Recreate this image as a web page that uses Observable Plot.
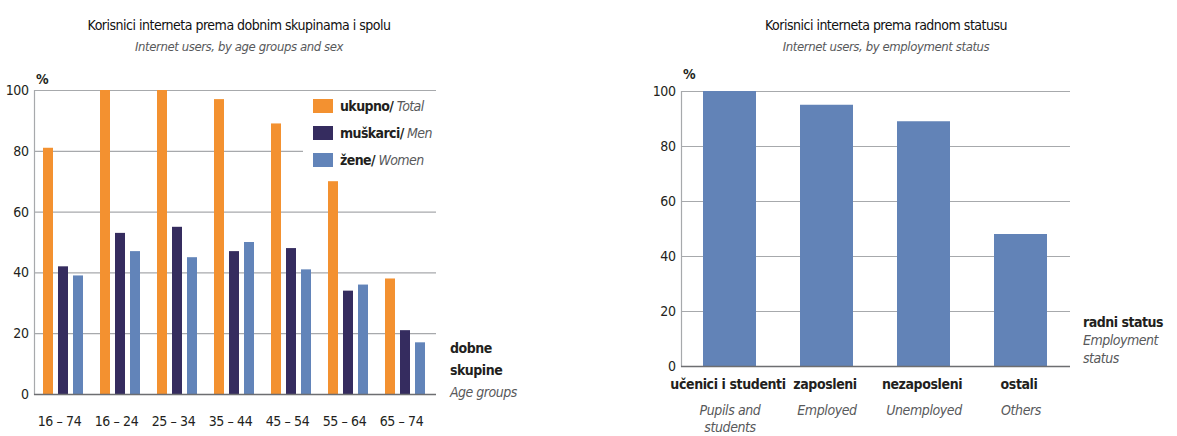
<!DOCTYPE html>
<html>
<head>
<meta charset="utf-8">
<script src="https://cdn.jsdelivr.net/npm/d3@7"></script>
<script src="https://cdn.jsdelivr.net/npm/@observablehq/plot@0.6"></script>
<style>
  html, body { margin: 0; padding: 0; background: #fff; }
  #wrap { position: relative; width: 1177px; height: 436px; overflow: hidden; letter-spacing: -0.4px;
          font-family: "DejaVu Sans Condensed", "Liberation Sans Narrow", "Roboto", sans-serif; color: #231f20; }
  .abs { position: absolute; white-space: nowrap; line-height: 20px; }
  .title { font-size: 14px; letter-spacing: -0.5px; color: #111; transform: translateX(-50%); text-align: center; }
  .sub { font-size: 13px; letter-spacing: -0.4px; font-style: italic; color: #58595b; transform: translateX(-50%); text-align: center; }
  .b { font-weight: bold; font-size: 14px; letter-spacing: -0.5px; }
  .i { font-style: italic; color: #58595b; font-size: 14px; letter-spacing: -0.5px; }
  .plot { position: absolute; top: 0; }
  #legend { position: absolute; left: 303px; top: 95px; width: 137px; height: 78px; background: #fff; }
  .sw { position: absolute; width: 20px; height: 14px; }
  .lt { position: absolute; font-size: 14px; line-height: 20px; white-space: nowrap; letter-spacing: -0.6px; }
  .lt b { font-weight: bold; }
  .lt i { color: #58595b; }
</style>
</head>
<body>
<div id="wrap"></div>
<script>
// ---------- data ----------
const ageGroups = ["16 – 74", "16 – 24", "25 – 34", "35 – 44", "45 – 54", "55 – 64", "65 – 74"];
const totalValues = [81, 100, 100, 97, 89, 70, 38];
const menValues   = [42, 53, 55, 47, 48, 34, 21];
const womenValues = [39, 47, 45, 50, 41, 36, 17];
const seriesKeys  = ["ukupno", "muškarci", "žene"];
const seriesEn    = ["Total", "Men", "Women"];
const seriesColors = ["#f39130", "#352c5f", "#6284b9"];
const yTicks = [0, 20, 40, 60, 80, 100];

const statusCats = ["učenici i studenti", "zaposleni", "nezaposleni", "ostali"];
const statusEn   = ["Pupils and\nstudents", "Employed", "Unemployed", "Others"];
const statusValues = [100, 95, 89, 48];

// ---------- tables ----------
const seriesValues = [totalValues, menValues, womenValues];
const leftData = [];
ageGroups.forEach((g, i) => seriesKeys.forEach((s, j) => leftData.push({group: g, series: s, value: seriesValues[j][i]})));
const rightData = statusCats.map((c, i) => ({cat: c, en: statusEn[i], value: statusValues[i]}));

const FONT = '"DejaVu Sans Condensed", "Liberation Sans Narrow", sans-serif';
const GRID = "#a7a9ac";
const AXIS = "#6d6e71";
const wrap = document.getElementById("wrap");
const STYLE = {fontFamily: FONT, fontSize: "14px", letterSpacing: "-0.4px", color: "#231f20", background: "transparent", overflow: "visible"};

// shared frame for the left chart layers
const L = {
  width: 640, height: 436,
  marginLeft: 34, marginRight: 204, marginTop: 90, marginBottom: 42,
  style: STYLE,
  y: {domain: [0, 100], axis: null}
};
function place(svg, x) { svg.classList.add("plot"); svg.style.left = x + "px"; wrap.appendChild(svg); }

// layer 1: grid + axes (no facets, continuous grid lines)
place(Plot.plot({
  ...L,
  x: {domain: ageGroups, paddingInner: 0.28, paddingOuter: 0.15, axis: null},
  marks: [
    Plot.gridY(yTicks, {stroke: GRID, strokeOpacity: 1, strokeWidth: 1.2}),
    Plot.axisY(yTicks, {tickSize: 0, tickPadding: 6, label: null, fill: "#231f20", fontSize: 14}),
    Plot.axisX({anchor: "bottom", tickSize: 0, tickPadding: 22, label: null, fontSize: 14, dx: -5, fill: "#231f20"})
  ]
}), 0);

// layer 2: grouped bars (faceted by age group)
place(Plot.plot({
  ...L,
  fx: {domain: ageGroups, paddingInner: 0.28, paddingOuter: 0.15, label: null, axis: null},
  x: {domain: seriesKeys, paddingInner: 0.31, paddingOuter: 0, axis: null},
  color: {domain: seriesKeys, range: seriesColors},
  marks: [
    Plot.barY(leftData, {fx: "group", x: "series", y: "value", fill: "series"})
  ]
}), 0);

// layer 3: axis lines on top
place(Plot.plot({
  ...L,
  marks: [
    Plot.frame({anchor: "left", stroke: GRID, strokeWidth: 1.2}),
    Plot.ruleY([0], {stroke: AXIS, strokeWidth: 1.5})
  ]
}), 0);

// ---------- right chart ----------
place(Plot.plot({
  width: 537, height: 436,
  marginLeft: 41, marginRight: 107, marginTop: 91, marginBottom: 70,
  style: STYLE,
  x: {domain: statusCats, paddingInner: 0.45, paddingOuter: 0.225, axis: null},
  y: {domain: [0, 100], axis: null},
  marks: [
    Plot.gridY(yTicks, {stroke: GRID, strokeOpacity: 1, strokeWidth: 1.2}),
    Plot.barY(rightData, {x: "cat", y: "value", fill: "#6283b7"}),
    Plot.axisY(yTicks, {tickSize: 0, tickPadding: 6, label: null, fill: "#231f20", fontSize: 14}),
    Plot.frame({anchor: "left", stroke: GRID, strokeWidth: 1.2}),
    Plot.ruleY([0], {stroke: AXIS, strokeWidth: 1.5}),
    Plot.text(rightData, {x: "cat", text: "cat", frameAnchor: "bottom", dy: 22, dx: -2, fontWeight: "bold", fontSize: 14, fill: "#231f20"}),
    Plot.text(rightData, {x: "cat", text: "en", frameAnchor: "bottom", dy: 36, lineAnchor: "top", lineHeight: 1.25, fontStyle: "italic", fontSize: 14, fill: "#58595b"})
  ]
}), 640);

// ---------- html annotations ----------
function add(html, cls, x, y) {
  const d = document.createElement("div");
  d.className = "abs " + cls;
  d.innerHTML = html;
  d.style.left = x + "px";
  d.style.top = (y - 10) + "px";
  wrap.appendChild(d);
  return d;
}
add("Korisnici interneta prema dobnim skupinama i spolu", "title", 239, 25);
add("Internet users, by age groups and sex", "sub", 239, 47);
add("Korisnici interneta prema radnom statusu", "title", 886, 25);
add("Internet users, by employment status", "sub", 886, 47);
add("%", "b", 36, 79);
add("%", "b", 683, 74);
add("dobne", "b", 450, 348);
add("skupine", "b", 450, 370);
add("Age groups", "i", 450, 392);
add("radni status", "b", 1083, 322);
add("Employment", "i", 1083, 340);
add("status", "i", 1083, 358);

// legend
const legend = document.createElement("div");
legend.id = "legend";
wrap.appendChild(legend);
const rowY = [105.7, 133.3, 160];
seriesKeys.forEach((s, i) => {
  const sw = document.createElement("div");
  sw.className = "sw";
  sw.style.background = seriesColors[i];
  sw.style.left = (312.7 - 303) + "px";
  sw.style.top = (rowY[i] - 7 - 95) + "px";
  legend.appendChild(sw);
  const t = document.createElement("div");
  t.className = "lt";
  t.innerHTML = `<b>${s}/</b> <i>${seriesEn[i]}</i>`;
  t.style.left = (340 - 303) + "px";
  t.style.top = (rowY[i] - 10 - 95) + "px";
  legend.appendChild(t);
});
</script>
</body>
</html>
